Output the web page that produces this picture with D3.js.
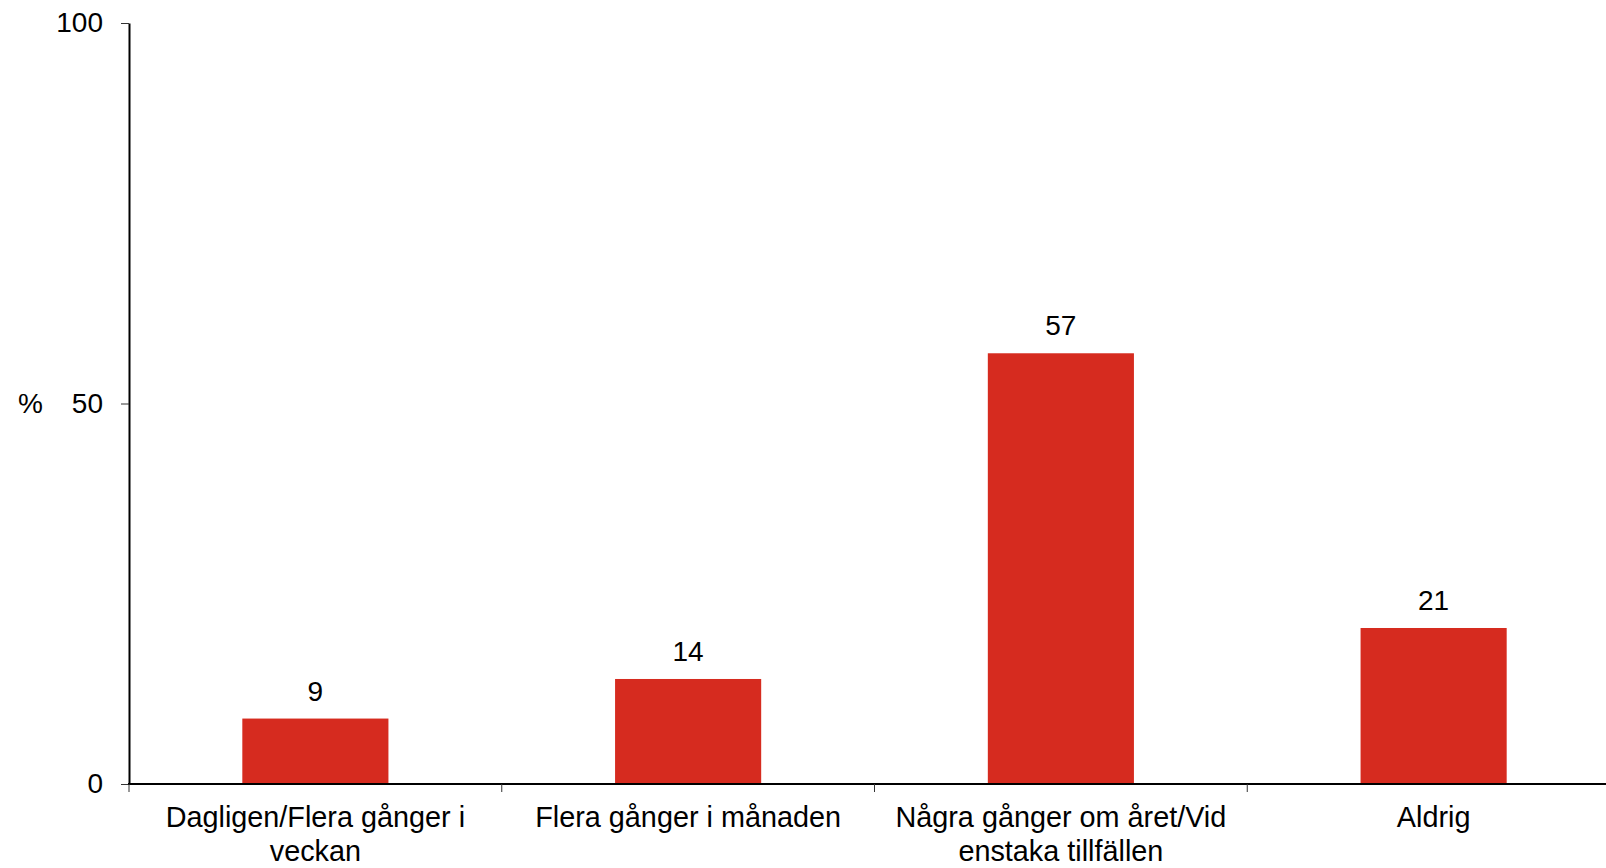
<!DOCTYPE html>
<meta charset="utf-8">
<style>
body { margin: 0; background: #fff; }
text {
  font-family: "Liberation Sans", Arial, sans-serif;
  font-size: 28px;
  fill: #000;
}
.cat text { font-size: 28.8px; }
</style>
<svg width="1606" height="868"></svg>
<script src="https://d3js.org/d3.v7.min.js"></script>
<script>
var categories = ["Dagligen/Flera gånger i veckan", "Flera gånger i månaden",
                  "Några gånger om året/Vid enstaka tillfällen", "Aldrig"];
var values = [8.6, 13.8, 56.6, 20.5];
var yTicks = [0, 50, 100];
var yLabel = "%";

var svg = d3.select("svg");
var plotLeft = 129, plotBottom = 784, plotTop = 23;
var step = 372.75;

var x = d3.scaleBand()
    .domain(categories)
    .range([plotLeft, plotLeft + step * categories.length])
    .paddingInner(0.608)
    .paddingOuter(0.304);

var y = d3.scaleLinear()
    .domain([0, 100])
    .range([plotBottom, plotTop]);

// bars
svg.append("g")
  .selectAll("rect")
  .data(values)
  .enter().append("rect")
    .attr("x", function(d, i) { return x(categories[i]); })
    .attr("width", x.bandwidth())
    .attr("y", function(d) { return y(d); })
    .attr("height", function(d) { return y(0) - y(d); })
    .attr("fill", "#d62b1f");

// value labels
svg.append("g")
  .selectAll("text")
  .data(values)
  .enter().append("text")
    .attr("x", function(d, i) { return x(categories[i]) + x.bandwidth() / 2; })
    .attr("y", function(d) { return y(d) - 18; })
    .attr("text-anchor", "middle")
    .text(function(d) { return Math.round(d); });

// y axis
var yAxis = svg.append("g")
    .attr("transform", "translate(" + plotLeft + ",0)")
    .call(d3.axisLeft(y).tickValues(yTicks).tickSize(8).tickSizeOuter(0).tickPadding(18));
yAxis.select(".domain").attr("stroke", "#000").attr("stroke-width", 2);
yAxis.selectAll(".tick line").attr("stroke", "#333").attr("stroke-width", 1);
yAxis.selectAll(".tick text")
    .style("font-family", "'Liberation Sans', Arial, sans-serif")
    .style("font-size", "28px")
    .attr("fill", "#000");

svg.append("text")
    .attr("x", 18)
    .attr("y", y(50))
    .attr("dy", "0.35em")
    .text(yLabel);

// x axis line
svg.append("line")
    .attr("x1", plotLeft - 1).attr("x2", 1606)
    .attr("y1", plotBottom).attr("y2", plotBottom)
    .attr("stroke", "#000")
    .attr("stroke-width", 2);

// category boundary ticks
var bounds = categories.map(function(c) { return x(c) + x.bandwidth() / 2 - x.step() / 2; });
bounds.push(bounds[bounds.length - 1] + x.step());
svg.append("g")
  .selectAll("line")
  .data(bounds)
  .enter().append("line")
    .attr("x1", function(d) { return d; })
    .attr("x2", function(d) { return d; })
    .attr("y1", plotBottom)
    .attr("y2", plotBottom + 8)
    .attr("stroke", "#333")
    .attr("stroke-width", 1);

// category labels, wrapped to the band step
var labels = svg.append("g")
    .attr("class", "cat")
  .selectAll("text")
  .data(categories)
  .enter().append("text")
    .attr("x", function(d) { return x(d) + x.bandwidth() / 2; })
    .attr("y", 827)
    .attr("text-anchor", "middle");

labels.each(function(d) {
  var t = d3.select(this), words = d.split(" "), line = [], lines = [];
  words.forEach(function(w) {
    line.push(w);
    t.text(line.join(" "));
    if (t.node().getComputedTextLength() > step - 20 && line.length > 1) {
      line.pop();
      lines.push(line.join(" "));
      line = [w];
    }
  });
  lines.push(line.join(" "));
  t.text(null);
  lines.forEach(function(l, i) {
    t.append("tspan")
      .attr("x", t.attr("x"))
      .attr("dy", i === 0 ? 0 : 33.5)
      .text(l);
  });
});
</script>
